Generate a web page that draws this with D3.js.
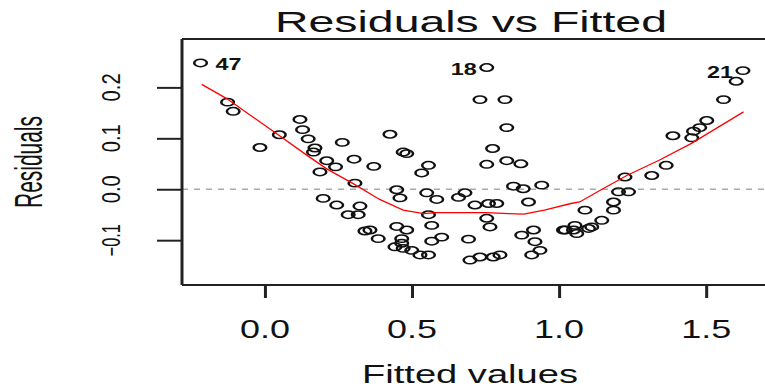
<!DOCTYPE html>
<html>
<head>
<meta charset="utf-8">
<script src="https://cdn.jsdelivr.net/npm/d3@7"></script>
<style>
  body { margin: 0; background: #fff; }
  svg text { font-family: "Liberation Sans", Arial, sans-serif; fill: #111; }
</style>
</head>
<body>
<div id="chart"></div>
<script>
// fitted values / residuals
var fitted = [-0.219, -0.127, -0.108, -0.017, 0.049, 0.119, 0.128, 0.147, 0.170, 0.165,
  0.263, 0.210, 0.240, 0.303, 0.370, 0.187, 0.306, 0.198, 0.244, 0.283,
  0.323, 0.317, 0.340, 0.357, 0.385, 0.556, 0.533, 0.754, 0.822, 0.870,
  0.448, 0.459, 0.550, 0.584, 0.658, 0.680, 0.714, 0.760, 0.788, 0.845,
  0.878, 0.941, 0.896, 0.556, 0.754, 0.765, 0.567, 0.448, 0.482, 0.465,
  0.601, 0.567, 0.692, 0.442, 0.470, 0.499, 0.527, 0.556, 0.465, 0.697,
  0.731, 0.776, 0.799, 0.873, 0.913, 0.918, 0.935, 0.907, 1.015, 0.754,
  0.731, 0.816, 0.822, 0.425, 0.470, 0.482, 0.774, 1.625, 1.602, 1.559,
  1.502, 1.478, 1.457, 1.387, 1.451, 1.364, 1.315, 1.224, 1.202, 1.236,
  1.185, 1.088, 1.185, 1.145, 1.111, 1.100, 1.054, 1.049, 1.020, 1.060];
var resid = [0.248, 0.171, 0.153, 0.082, 0.107, 0.137, 0.117, 0.099, 0.081, 0.073,
  0.092, 0.056, 0.044, 0.059, 0.045, 0.034, 0.012, -0.018, -0.031, -0.050,
  -0.033, -0.050, -0.082, -0.080, -0.097, 0.047, 0.032, 0.049, 0.056, 0.050,
  -0.001, -0.017, -0.007, -0.020, -0.016, -0.007, -0.031, -0.028, -0.028, 0.006,
  0.001, 0.008, -0.025, -0.050, -0.057, -0.074, -0.071, -0.073, -0.080, -0.097,
  -0.094, -0.102, -0.098, -0.113, -0.116, -0.120, -0.129, -0.129, -0.106, -0.139,
  -0.133, -0.133, -0.129, -0.090, -0.080, -0.103, -0.120, -0.129, -0.080, 0.239,
  0.176, 0.176, 0.121, 0.108, 0.073, 0.070, 0.080, 0.233, 0.212, 0.176,
  0.135, 0.121, 0.114, 0.105, 0.101, 0.047, 0.027, 0.024, -0.005, -0.005,
  -0.025, -0.041, -0.041, -0.061, -0.074, -0.077, -0.071, -0.080, -0.080, -0.087];

// red smoother
var smoothX = [-0.215, -0.13, 0.04, 0.142, 0.21, 0.30, 0.39, 0.47, 0.54, 0.58, 0.75,
  0.83, 0.88, 0.95, 1.04, 1.07, 1.14, 1.23, 1.34, 1.45, 1.627];
var smoothY = [0.206, 0.178, 0.109, 0.067, 0.040, 0.011, -0.020, -0.041, -0.048, -0.046, -0.046,
  -0.048, -0.049, -0.041, -0.028, -0.025, -0.002, 0.027, 0.057, 0.090, 0.152];

var xTicks = [0, 0.5, 1, 1.5];
var yTicks = [-0.1, 0, 0.1, 0.2];
var pointLabels = ["47", "18", "21"];
var labelIndex = [0, 69, 77];

var W = 765, H = 390;
var plotL = 182, plotR = 767, plotT = 39, plotB = 285;

var svg = d3.select("#chart").append("svg")
  .attr("width", W).attr("height", H);

var x = d3.scaleLinear().domain([-0.282, 1.70]).range([plotL, 765]);
var y = d3.scaleLinear().domain([-0.188, 0.295]).range([plotB, plotT]);

// zero reference line
svg.append("line")
  .attr("x1", plotL).attr("x2", plotR)
  .attr("y1", y(0)).attr("y2", y(0))
  .attr("stroke", "#aaa").attr("stroke-width", 1.3)
  .attr("stroke-dasharray", "6,6");

// box
svg.append("line").attr("x1", plotL).attr("x2", plotR).attr("y1", plotT).attr("y2", plotT)
  .attr("stroke", "#222").attr("stroke-width", 2);
svg.append("line").attr("x1", plotL).attr("x2", plotR).attr("y1", plotB).attr("y2", plotB)
  .attr("stroke", "#222").attr("stroke-width", 2);
svg.append("line").attr("x1", plotL).attr("x2", plotL).attr("y1", plotT).attr("y2", plotB)
  .attr("stroke", "#222").attr("stroke-width", 3);

// axes (ticks only, labels below)
var xAxis = svg.append("g")
  .attr("transform", "translate(0," + plotB + ")")
  .call(d3.axisBottom(x).tickValues(xTicks).tickSize(13).tickFormat(""));
xAxis.select(".domain").remove();
xAxis.selectAll("line").attr("stroke", "#222").attr("stroke-width", 3);

var yAxis = svg.append("g")
  .attr("transform", "translate(" + plotL + ",0)")
  .call(d3.axisLeft(y).tickValues(yTicks).tickSize(25).tickFormat(""));
yAxis.select(".domain").remove();
yAxis.selectAll("line").attr("stroke", "#222").attr("stroke-width", 2);

svg.selectAll(".xlab").data(xTicks).enter().append("text")
  .attr("x", function (d) { return x(d); })
  .attr("y", 338)
  .attr("text-anchor", "middle")
  .attr("font-size", 26)
  .attr("textLength", 50).attr("lengthAdjust", "spacingAndGlyphs")
  .text(d3.format(".1f"));

svg.selectAll(".ylab").data(yTicks).enter().append("text")
  .attr("transform", function (d) { return "translate(120," + y(d) + ") rotate(-90)"; })
  .attr("text-anchor", "middle")
  .attr("font-size", 25)
  .attr("textLength", function (d) { return d < 0 ? 32 : 28; })
  .attr("lengthAdjust", "spacingAndGlyphs")
  .text(d3.format(".1f"));

// titles
svg.append("text")
  .attr("x", 471).attr("y", 32)
  .attr("text-anchor", "middle")
  .attr("font-size", 29)
  .attr("textLength", 392).attr("lengthAdjust", "spacingAndGlyphs")
  .text("Residuals vs Fitted");

svg.append("text")
  .attr("x", 470).attr("y", 383)
  .attr("text-anchor", "middle")
  .attr("font-size", 25)
  .attr("textLength", 216).attr("lengthAdjust", "spacingAndGlyphs")
  .text("Fitted values");

svg.append("text")
  .attr("transform", "translate(42,162) rotate(-90)")
  .attr("text-anchor", "middle")
  .attr("font-size", 38)
  .attr("textLength", 92).attr("lengthAdjust", "spacingAndGlyphs")
  .text("Residuals");

// points
var pts = d3.range(fitted.length);
svg.selectAll(".pt").data(pts).enter().append("g")
  .attr("transform", function (i) { return "translate(" + x(fitted[i]) + "," + y(resid[i]) + ") scale(1.7,1)"; })
  .append("circle")
  .attr("r", 3.7)
  .attr("fill", "none")
  .attr("stroke", "#111")
  .attr("stroke-width", 1.5);

// smoother
var line = d3.line()
  .x(function (i) { return x(smoothX[i]); })
  .y(function (i) { return y(smoothY[i]); });
svg.append("path")
  .attr("d", line(d3.range(smoothX.length)))
  .attr("fill", "none")
  .attr("stroke", "red")
  .attr("stroke-width", 1.3);

// labels of extreme points
svg.selectAll(".plab").data(labelIndex).enter().append("text")
  .attr("x", function (i, k) {
    return k === 0 ? x(fitted[i]) + 15 : x(fitted[i]) - 10;
  })
  .attr("y", function (i) { return y(resid[i]) + 7; })
  .attr("text-anchor", function (i, k) { return k === 0 ? "start" : "end"; })
  .attr("font-size", 17)
  .attr("font-weight", "bold")
  .attr("textLength", 26).attr("lengthAdjust", "spacingAndGlyphs")
  .text(function (i, k) { return pointLabels[k]; });
</script>
</body>
</html>
